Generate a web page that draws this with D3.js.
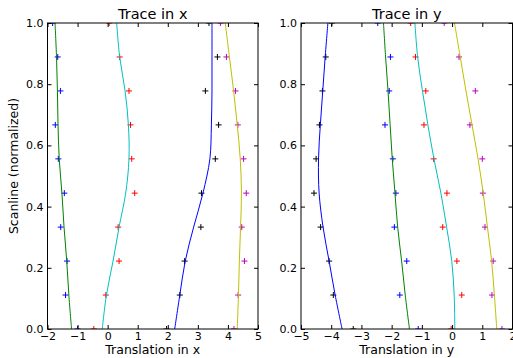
<!DOCTYPE html>
<html>
<head>
<meta charset="utf-8">
<script src="https://cdn.jsdelivr.net/npm/d3@7"></script>
<style>
  body { margin: 0; background: #fff; }
  text { font-family: "DejaVu Sans", sans-serif; }
</style>
</head>
<body>
<script>
// scanline positions (normalized)
const scan = [0.0, 0.111, 0.222, 0.333, 0.444, 0.556, 0.667, 0.778, 0.889, 1.0];

// trace in x: measured points
const xBluePts    = [-1.00, -1.40, -1.35, -1.56, -1.44, -1.64, -1.74, -1.57, -1.66, -1.83];
const xRedPts     = [-0.46, -0.06, 0.38, 0.35, 0.90, 0.80, 0.76, 0.71, 0.40, 0.05];
const xBlackPts   = [1.96, 2.40, 2.56, 3.10, 3.12, 3.58, 3.69, 3.25, 3.65, 3.37];
const xMagentaPts = [4.20, 4.34, 4.55, 4.46, 4.61, 4.52, 4.33, 4.25, 3.95, 3.75];
// trace in x: fitted curves
const xGreenFit   = [-1.20, -1.29, -1.36, -1.45, -1.52, -1.61, -1.65, -1.67, -1.70, -1.75];
const xCyanFit    = [-0.18, -0.04, 0.18, 0.38, 0.60, 0.71, 0.69, 0.58, 0.40, 0.30];
const xBlueFit    = [2.23, 2.40, 2.58, 2.86, 3.17, 3.40, 3.45, 3.47, 3.47, 3.47];
const xYellowFit  = [4.31, 4.35, 4.38, 4.42, 4.45, 4.41, 4.31, 4.19, 4.05, 3.91];

// trace in y: measured points
const yBlackPts   = [-3.27, -3.93, -4.07, -4.35, -4.57, -4.50, -4.39, -4.29, -4.18, -3.98];
const yBluePts    = [-1.12, -1.73, -1.50, -1.91, -1.86, -1.96, -2.22, -2.08, -2.04, -2.46];
const yRedPts     = [-0.03, 0.32, 0.16, -0.31, -0.17, -0.61, -0.93, -0.87, -1.21, -1.37];
const yMagentaPts = [1.65, 1.32, 1.36, 1.09, 1.02, 1.00, 0.59, 0.77, 0.23, -0.26];
// trace in y: fitted curves
const yBlueFit    = [-3.64, -3.87, -4.07, -4.27, -4.40, -4.42, -4.36, -4.28, -4.20, -4.11];
const yGreenFit   = [-1.41, -1.55, -1.67, -1.80, -1.89, -1.98, -2.05, -2.12, -2.20, -2.27];
const yCyanFit    = [0.09, 0.07, -0.01, -0.18, -0.37, -0.60, -0.80, -0.98, -1.14, -1.23];
const yYellowFit  = [1.48, 1.40, 1.31, 1.17, 1.03, 0.86, 0.66, 0.46, 0.27, 0.08];

const xTicks = [-2, -1, 0, 1, 2, 3, 4, 5];
const yTicksX = [-5, -4, -3, -2, -1, 0, 1, 2];
const scanTicks = [0.0, 0.2, 0.4, 0.6, 0.8, 1.0];

const width = 513, height = 358;
const plotTop = 23, plotBottom = 329;

const panels = [
  {title: "Trace in x", label: "Translation in x", left: 47.5, right: 258, domain: [-2, 5], ticks: xTicks,
   points: [[xBluePts, "#0000ff"], [xRedPts, "#ff0000"], [xBlackPts, "#000000"], [xMagentaPts, "#bf00bf"]],
   fits: [[xGreenFit, "#008000"], [xCyanFit, "#00bfbf"], [xBlueFit, "#0000ff"], [xYellowFit, "#bfbf00"]]},
  {title: "Trace in y", label: "Translation in y", left: 301, right: 512.5, domain: [-5, 2], ticks: yTicksX,
   points: [[yBlackPts, "#000000"], [yBluePts, "#0000ff"], [yRedPts, "#ff0000"], [yMagentaPts, "#bf00bf"]],
   fits: [[yBlueFit, "#0000ff"], [yGreenFit, "#008000"], [yCyanFit, "#00bfbf"], [yYellowFit, "#bfbf00"]]}
];

const svg = d3.select("body").append("svg")
    .attr("width", width)
    .attr("height", height);

const y = d3.scaleLinear().domain([0, 1]).range([plotBottom, plotTop]);

panels.forEach((p, i) => {
  const x = d3.scaleLinear().domain(p.domain).range([p.left, p.right]);
  const g = svg.append("g");

  g.append("clipPath").attr("id", "clip" + i)
    .append("rect")
      .attr("x", p.left).attr("y", plotTop)
      .attr("width", p.right - p.left).attr("height", plotBottom - plotTop);

  const plot = g.append("g").attr("clip-path", `url(#clip${i})`);

  const line = d3.line()
      .x(d => x(d[0]))
      .y(d => y(d[1]))
      .curve(d3.curveCatmullRom);

  p.points.forEach(([vals, color]) => {
    plot.append("g")
      .selectAll("path")
      .data(vals.map((v, k) => [v, scan[k]]))
      .join("path")
        .attr("transform", d => `translate(${x(d[0])},${y(d[1])})`)
        .attr("d", "M-3,0H3M0,-3V3")
        .attr("stroke", color)
        .attr("stroke-width", 1)
        .attr("fill", "none");
  });

  p.fits.forEach(([vals, color]) => {
    plot.append("path")
      .datum(vals.map((v, k) => [v, scan[k]]))
      .attr("d", line)
      .attr("fill", "none")
      .attr("stroke", color)
      .attr("stroke-width", 1);
  });

  // axes, ticks inside on all sides
  const xb = g.append("g")
      .attr("transform", `translate(0,${plotBottom})`)
      .call(d3.axisBottom(x).tickValues(p.ticks).tickFormat(d3.format("d"))
        .tickSizeInner(-4).tickSizeOuter(0).tickPadding(3.5));
  const xt = g.append("g")
      .attr("transform", `translate(0,${plotTop})`)
      .call(d3.axisTop(x).tickValues(p.ticks).tickFormat("")
        .tickSizeInner(-4).tickSizeOuter(0));
  const yl = g.append("g")
      .attr("transform", `translate(${p.left},0)`)
      .call(d3.axisLeft(y).tickValues(scanTicks).tickFormat(d3.format(".1f"))
        .tickSizeInner(-4).tickSizeOuter(0).tickPadding(4));
  const yr = g.append("g")
      .attr("transform", `translate(${p.right},0)`)
      .call(d3.axisRight(y).tickValues(scanTicks).tickFormat("")
        .tickSizeInner(-4).tickSizeOuter(0));

  [xb, xt, yl, yr].forEach(a => {
    a.select(".domain").remove();
    a.selectAll("text").attr("font-size", 11).attr("fill", "#000")
      .style("font-family", "DejaVu Sans, sans-serif");
    a.selectAll("line").attr("stroke", "#000");
  });

  g.append("rect")
    .attr("x", p.left).attr("y", plotTop)
    .attr("width", p.right - p.left).attr("height", plotBottom - plotTop)
    .attr("fill", "none").attr("stroke", "#000").attr("stroke-width", 1);

  g.append("text")
    .attr("x", (p.left + p.right) / 2).attr("y", 19)
    .attr("text-anchor", "middle").attr("font-size", 14.5)
    .text(p.title);

  g.append("text")
    .attr("x", (p.left + p.right) / 2).attr("y", 353.5)
    .attr("text-anchor", "middle").attr("font-size", 12.5)
    .text(p.label);
});

svg.append("text")
  .attr("transform", "translate(18,166) rotate(-90)")
  .attr("text-anchor", "middle").attr("font-size", 12.5)
  .text("Scanline (normalized)");
</script>
</body>
</html>
